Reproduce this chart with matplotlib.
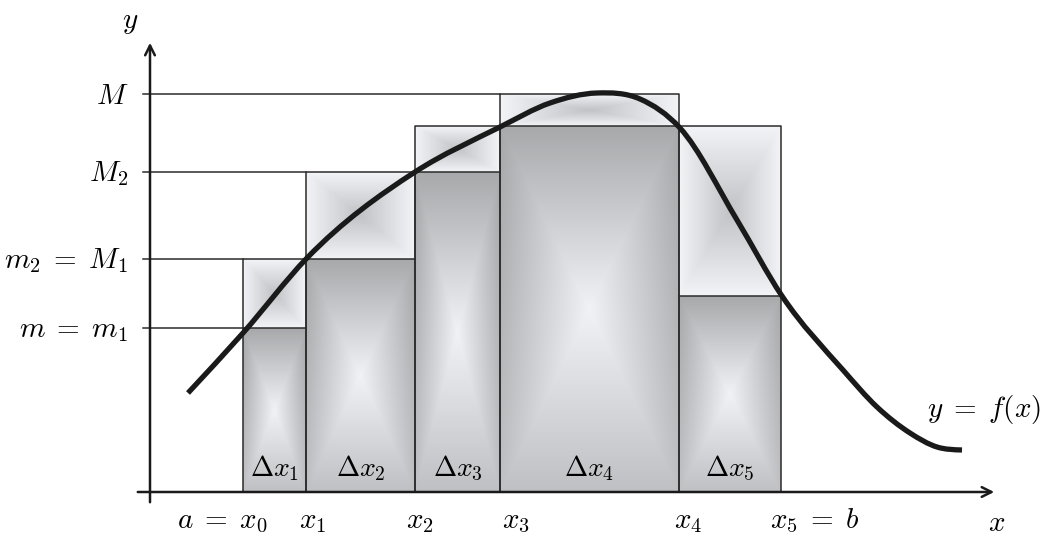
import numpy as np
import matplotlib.pyplot as plt
from matplotlib.path import Path
from matplotlib.patches import PathPatch

plt.rcParams['mathtext.fontset'] = 'cm'

# partition points and levels (units: axis origin at y-axis / x-axis crossing)
xs = [0.93, 1.56, 2.65, 3.50, 5.29, 6.31]
lower = [1.64, 2.33, 3.20, 3.66, 1.96]
upper = [2.33, 3.20, 3.66, 3.98, 3.66]
dx_labels = [r'$\Delta x_1$', r'$\Delta x_2$', r'$\Delta x_3$', r'$\Delta x_4$', r'$\Delta x_5$']
x_labels = [r'$a\;=\;x_0$', r'$x_1$', r'$x_2$', r'$x_3$', r'$x_4$', r'$x_5\;=\;b$']
x_label_pos = [0.72, 1.63, 2.70, 3.66, 5.38, 6.65]

# y-axis guide levels: (value, label, where the line stops)
y_levels = [3.98, 3.20, 2.33, 1.64]
y_labels = [r'$M$', r'$M_2$', r'$m_2\;=\;M_1$', r'$m\;=\;m_1$']
y_stops = [3.50, 1.56, 0.93, 0.93]

# points read along the curve y = f(x)
cx = [0.38, 0.93, 1.57, 2.65, 3.50, 4.00, 4.47, 4.90, 5.30, 5.87, 6.32, 6.93, 7.27, 7.60, 7.87, 8.12]
cy = [0.99, 1.59, 2.34, 3.20, 3.65, 3.89, 3.99, 3.93, 3.64, 2.72, 1.96, 1.22, 0.85, 0.59, 0.45, 0.42]

fig = plt.figure(figsize=(10.45, 5.4), dpi=100)
ax = fig.add_axes([0, 0, 1, 1])
ax.set_xlim(-1.5, 8.95)
ax.set_ylim(-0.48, 4.92)
ax.axis('off')

g = np.linspace(-1, 1, 120)
U, V = np.meshgrid(g, g)
D = np.maximum(np.abs(U), np.abs(V))
tint = np.array([1.0, 1.005, 1.02])

low_val = 0.99 - 0.24 * D - 0.09 * (V + 1) / 2
up_val = 0.76 + 0.19 * D
low_img = np.clip(low_val[..., None] * tint, 0, 1)
up_img = np.clip(up_val[..., None] * tint, 0, 1)

for i in range(5):
    a, b = xs[i], xs[i + 1]
    ax.imshow(up_img, extent=(a, b, lower[i], upper[i]), origin='lower',
              aspect='auto', zorder=1, interpolation='bilinear')
    ax.imshow(low_img, extent=(a, b, 0, lower[i]), origin='lower',
              aspect='auto', zorder=1, interpolation='bilinear')
    ax.plot([a, b, b, a, a], [0, 0, upper[i], upper[i], 0], color='#2b2b2b', lw=1.1, zorder=2)
    ax.plot([a, b], [lower[i], lower[i]], color='#2b2b2b', lw=1.1, zorder=2)
    ax.text((a + b) / 2, 0.24, dx_labels[i], ha='center', va='center', fontsize=20, zorder=3)

for lev, lab, stop in zip(y_levels, y_labels, y_stops):
    ax.plot([-0.07, stop], [lev, lev], color='#2b2b2b', lw=1.1, zorder=2)
    ax.text(-0.22, lev - 0.02, lab, ha='right', va='center', fontsize=21)

for xp, lab in zip(x_label_pos, x_labels):
    ax.text(xp, -0.29, lab, ha='center', va='center', fontsize=21)

# curve: cubic hermite bezier segments through the read points
X = np.array(cx)
Y = np.array(cy)
h = np.diff(X)
d = np.diff(Y) / h
m = np.empty_like(X)
m[0] = d[0]
m[-1] = d[-1] * 0.3
m[1:-1] = (h[1:] * d[:-1] + h[:-1] * d[1:]) / (h[:-1] + h[1:])
verts = [(X[0], Y[0])]
codes = [Path.MOVETO]
for i in range(len(X) - 1):
    verts += [(X[i] + h[i] / 3, Y[i] + m[i] * h[i] / 3),
              (X[i + 1] - h[i] / 3, Y[i + 1] - m[i + 1] * h[i] / 3),
              (X[i + 1], Y[i + 1])]
    codes += [Path.CURVE4] * 3
ax.add_patch(PathPatch(Path(verts, codes), fill=False, lw=3.8, color='#1a1a1a',
                       capstyle='butt', zorder=4))

# axes with arrows
ax.annotate('', xy=(8.47, 0), xytext=(-0.15, 0),
            arrowprops=dict(arrowstyle='->,head_length=0.7,head_width=0.35', lw=1.8, color='#1a1a1a'))
ax.annotate('', xy=(0, 4.52), xytext=(0, -0.13),
            arrowprops=dict(arrowstyle='->,head_length=0.7,head_width=0.35', lw=1.8, color='#1a1a1a'))
ax.text(-0.2, 4.7, r'$y$', ha='center', va='center', fontsize=21)
ax.text(8.47, -0.31, r'$x$', ha='center', va='center', fontsize=21)
ax.text(8.34, 0.82, r'$y\;=\;f(x)$', ha='center', va='center', fontsize=21)

fig.savefig('out.png', dpi=100)
